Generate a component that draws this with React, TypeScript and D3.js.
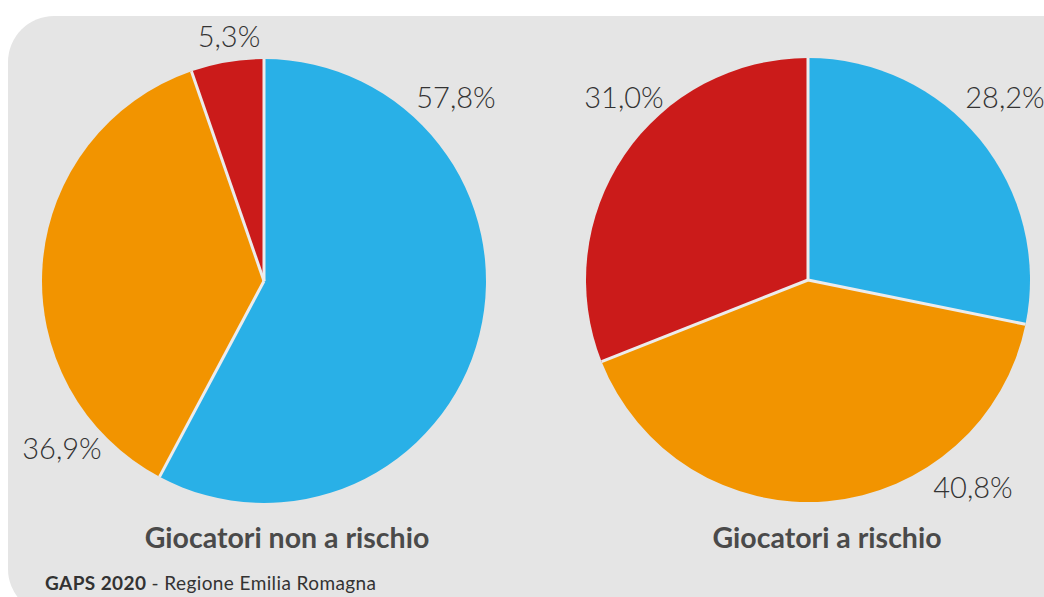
import React from "react";
import * as d3 from "d3";

const categories = ["Blu", "Arancione", "Rosso"];
const nonRischioValues = [57.8, 36.9, 5.3];
const rischioValues = [28.2, 40.8, 31.0];
const pieTitles = ["Giocatori non a rischio", "Giocatori a rischio"];
const percentLabels = [
  ["57,8%", "36,9%", "5,3%"],
  ["28,2%", "40,8%", "31,0%"],
];

const COLORS = ["#29b0e7", "#f29400", "#cb1b1a"];
const FONT = "Lato, 'Open Sans', sans-serif";

// layout (not data)
const W = 1044;
const H = 597;
const R = 222;
const pies = [
  { cx: 264, cy: 281, values: nonRischioValues, titleX: 287,
    labelOff: [[192, -173], [-202, 178], [-35, -234]] },
  { cx: 808, cy: 280, values: rischioValues, titleX: 827,
    labelOff: [[197, -172], [165, 218], [-184, -172]] },
];

export default function App() {
  const pieGen = d3.pie<number>().sort(null).value((d) => d);
  const arcGen = d3.arc<d3.PieArcDatum<number>>().innerRadius(0).outerRadius(R);
  const bx = 8, by = 16, br = 46, bb = 615;
  const bg = `M${bx},${by + br} A${br},${br} 0 0 1 ${bx + br},${by} L${W + 60},${by} L${W + 60},${bb} L${bx + br},${bb} A${br},${br} 0 0 1 ${bx},${bb - br} Z`;
  return (
    <svg width={W} height={H} style={{ position: "absolute", left: 0, top: 0 }}>
      <rect x={0} y={0} width={W} height={H} fill="#ffffff" />
      <path d={bg} fill="#e5e5e5" />
      {pies.map((p, pi) => {
        const arcs = pieGen(p.values);
        return (
          <g key={pi}>
            <g transform={`translate(${p.cx},${p.cy})`}>
              {arcs.map((a, i) => (
                <path key={categories[i]} d={arcGen(a) || ""} fill={COLORS[i]} />
              ))}
              {arcs.map((a, i) => (
                <line
                  key={"s" + i}
                  x1={0}
                  y1={0}
                  x2={Math.sin(a.startAngle) * R}
                  y2={-Math.cos(a.startAngle) * R}
                  stroke="#ececec"
                  strokeWidth={3}
                />
              ))}
              {arcs.map((a, i) => (
                <text
                  key={"l" + i}
                  x={p.labelOff[i][0]}
                  y={p.labelOff[i][1]}
                  textAnchor="middle"
                  fontFamily={FONT}
                  fontWeight={300}
                  fontSize={29}
                  fill="#333333"
                >
                  {percentLabels[pi][i]}
                </text>
              ))}
            </g>
            <text
              x={p.titleX}
              y={548}
              textAnchor="middle"
              fontFamily={FONT}
              fontWeight={700}
              fontSize={28.5}
              fill="#4a4a4a"
            >
              {pieTitles[pi]}
            </text>
          </g>
        );
      })}
      <text x={45} y={590} fontFamily={FONT} fontSize={19} letterSpacing={0.4} fill="#333333">
        <tspan fontWeight={700}>GAPS 2020</tspan>
        <tspan> - Regione Emilia Romagna</tspan>
      </text>
    </svg>
  );
}
